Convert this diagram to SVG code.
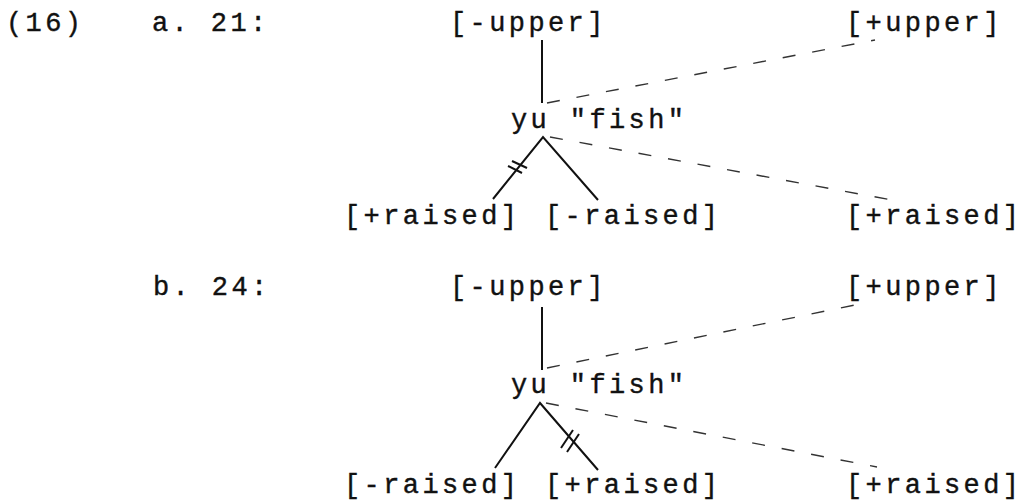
<svg xmlns="http://www.w3.org/2000/svg" width="1026" height="502" viewBox="0 0 1026 502">
<style>
text{font-family:"Liberation Mono","DejaVu Sans Mono",monospace;font-size:27px;letter-spacing:3.4px;fill:#111;stroke:#111;stroke-width:0.4}
.solid{stroke:#111;stroke-width:2;fill:none}
.dash{stroke:#333;stroke-width:1.4;fill:none;stroke-dasharray:13 17}
.tick{stroke:#111;stroke-width:2}
</style>
<rect width="1026" height="502" fill="#fff"/>
<g id="labels">
<text x="6" y="31">(16)</text>
<text x="152" y="31">a. 21:</text>
<text x="153" y="295">b. 24:</text>
</g>
<g id="a-upper-minus"><text x="450" y="31">[-upper]</text></g>
<g id="a-upper-plus"><text x="846" y="31">[+upper]</text></g>
<g id="a-yu"><text x="511" y="128">yu "fish"</text></g>
<g id="a-raised-plus"><text x="344" y="224">[+raised]</text></g>
<g id="a-raised-minus"><text x="545" y="224">[-raised]</text></g>
<g id="a-raised-plus-right"><text x="846" y="224">[+raised]</text></g>
<g id="b-upper-minus"><text x="450" y="295">[-upper]</text></g>
<g id="b-upper-plus"><text x="846" y="295">[+upper]</text></g>
<g id="b-yu"><text x="511" y="393">yu "fish"</text></g>
<g id="b-raised-minus"><text x="344" y="493">[-raised]</text></g>
<g id="b-raised-plus"><text x="545" y="493">[+raised]</text></g>
<g id="b-raised-plus-right"><text x="846" y="493">[+raised]</text></g>
<g id="connectors">
<line class="solid" x1="542" y1="40" x2="542" y2="103"/>
<line class="dash" x1="547" y1="103" x2="875" y2="40"/>
<polyline class="solid" points="493,199 543,137 598,200"/>
<line class="dash" x1="550" y1="137" x2="892" y2="200"/>
<line class="tick" x1="508" y1="166" x2="522" y2="173"/>
<line class="tick" x1="512" y1="161" x2="527" y2="168"/>
<line class="solid" x1="542" y1="307" x2="542" y2="370"/>
<line class="dash" x1="547" y1="368" x2="860" y2="304"/>
<polyline class="solid" points="495,468 540,403 598,470"/>
<line class="dash" x1="546" y1="403" x2="877" y2="467"/>
<line class="tick" x1="561" y1="448" x2="573" y2="430"/>
<line class="tick" x1="567" y1="452" x2="579" y2="434"/>
</g>
</svg>
